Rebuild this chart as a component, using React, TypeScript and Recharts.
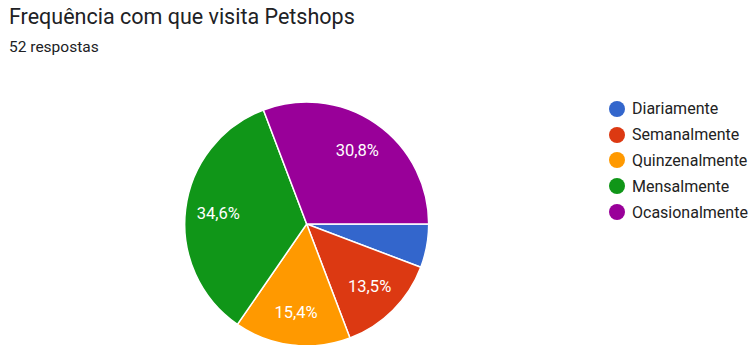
import { PieChart, Pie, Cell, Legend } from "recharts"

const categories = ["Diariamente", "Semanalmente", "Quinzenalmente", "Mensalmente", "Ocasionalmente"]
const responses = [3, 7, 8, 18, 16]
const colors = ["#3366cc", "#dc3912", "#ff9900", "#109618", "#990099"]
const total = responses.reduce((a, b) => a + b, 0)

const data = categories.map((name, i) => ({ name, value: responses[i] }))

const RADIAN = Math.PI / 180

const renderLabel = ({ cx, cy, midAngle, outerRadius, percent }: any) => {
    // small slices get no label, as in Google Forms
    if (percent < 0.1) return null
    const r = outerRadius * 0.73
    const x = cx + r * Math.cos(-midAngle * RADIAN)
    const y = cy + r * Math.sin(-midAngle * RADIAN)
    return (
        <text x={x} y={y} fill="#ffffff" textAnchor="middle" dominantBaseline="central" fontSize={16.5} fontFamily="Roboto, Arial, sans-serif">
            {(percent * 100).toFixed(1).replace(".", ",")}%
        </text>
    )
}

const LegendContent = () => (
    <div style={{ fontFamily: "Roboto, Arial, sans-serif" }}>
        {categories.map((c, i) => (
            <div key={c} style={{ display: "flex", alignItems: "center", height: 25.8 }}>
                <span style={{ width: 16, height: 16, borderRadius: "50%", background: colors[i], display: "inline-block", marginRight: 7 }} />
                <span style={{ fontSize: 16, color: "#222" }}>{c}</span>
            </div>
        ))}
    </div>
)

export default function App() {
    return (
        <div style={{ position: "absolute", left: 0, top: 0, width: 753, height: 345, overflow: "hidden", background: "#fff" }}>
            <div style={{ position: "absolute", left: 9, top: 4, fontFamily: "Roboto, Arial, sans-serif", fontSize: 21.5, color: "#202124" }}>
                Frequência com que visita Petshops
            </div>
            <div style={{ position: "absolute", left: 9, top: 38, fontFamily: "Roboto, Arial, sans-serif", fontSize: 15.5, color: "#202124" }}>
                {total} respostas
            </div>
            <PieChart width={753} height={345} margin={{ top: 0, right: 0, bottom: 0, left: 0 }} style={{ position: "absolute", left: 0, top: 0 }}>
                <Pie
                    data={data}
                    dataKey="value"
                    nameKey="name"
                    cx={306.7}
                    cy={224}
                    outerRadius={122}
                    startAngle={0}
                    endAngle={-360}
                    stroke="#ffffff"
                    strokeWidth={1.5}
                    label={renderLabel}
                    labelLine={false}
                    isAnimationActive={false}
                >
                    {data.map((d, i) => (
                        <Cell key={d.name} fill={colors[i]} />
                    ))}
                </Pie>
                <Legend
                    content={<LegendContent />}
                    layout="vertical"
                    wrapperStyle={{ position: "absolute", left: 609, top: 96, width: 150 }}
                />
            </PieChart>
        </div>
    )
}
